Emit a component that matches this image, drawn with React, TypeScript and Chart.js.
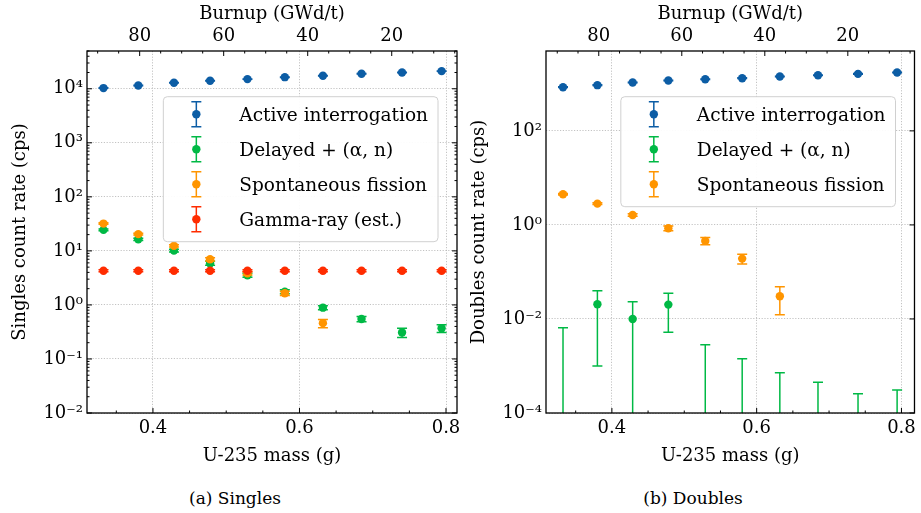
import React, { useEffect, useRef } from "react";
import { Chart, registerables } from "chart.js";

Chart.register(...registerables);

// ---------------- data ----------------
const U235_MASS = [0.3325, 0.38, 0.4287, 0.478, 0.529, 0.58, 0.632, 0.6847, 0.74, 0.794];

const LABEL_ACTIVE = "Active interrogation";
const LABEL_DELAYED = "Delayed + (α, n)";
const LABEL_SF = "Spontaneous fission";
const LABEL_GAMMA = "Gamma-ray (est.)";

const COLOR_ACTIVE = "#0C5DA5";
const COLOR_DELAYED = "#00B945";
const COLOR_SF = "#FF9500";
const COLOR_GAMMA = "#FF2C00";

const SINGLES_ACTIVE = [10300, 11500, 12900, 14100, 15100, 16400, 17400, 19000, 20000, 21200];
const SINGLES_ACTIVE_ERR = [100, 110, 120, 130, 140, 150, 160, 170, 180, 190];
const SINGLES_DELAYED = [24.5, 16.4, 10.1, 5.9, 3.55, 1.76, 0.89, 0.55, 0.31, 0.37];
const SINGLES_DELAYED_ERR = [0.9, 0.8, 0.6, 0.5, 0.3, 0.15, 0.08, 0.06, 0.06, 0.06];
const SINGLES_SF = [32, 20.4, 12.4, 7.0, 3.86, 1.64, 0.46, null, null, null];
const SINGLES_SF_ERR = [1.0, 0.8, 0.6, 0.5, 0.3, 0.15, 0.08, null, null, null];
const SINGLES_GAMMA = [4.3, 4.3, 4.3, 4.3, 4.3, 4.3, 4.3, 4.3, 4.3, 4.3];
const SINGLES_GAMMA_ERR = [0.2, 0.2, 0.2, 0.2, 0.2, 0.2, 0.2, 0.2, 0.2, 0.2];

const DOUBLES_ACTIVE = [849, 938, 1068, 1177, 1257, 1321, 1432, 1529, 1632, 1741];
const DOUBLES_ACTIVE_ERR = [15, 16, 17, 18, 19, 20, 21, 22, 23, 24];
const DOUBLES_DELAYED = [0, 0.0205, 0.01, 0.0202, 0, 0, 0, 0, 0, 0];
const DOUBLES_DELAYED_ERR = [0.0065, 0.0195, 0.0133, 0.015, 0.00284, 0.00143, 0.00072, 0.00045, 0.000258, 0.00031];
const DOUBLES_SF = [4.49, 2.84, 1.63, 0.85, 0.457, 0.192, 0.0303, null, null, null];
const DOUBLES_SF_ERR = [0.15, 0.12, 0.1, 0.1, 0.08, 0.045, 0.018, null, null, null];

const MASS_TICKS = [0.4, 0.6, 0.8];
const MASS_TICK_LABELS = ["0.4", "0.6", "0.8"];
const BURNUP_TICKS = [20, 40, 60, 80];
const BURNUP_TICK_LABELS = ["20", "40", "60", "80"];
const SINGLES_Y_TICKS = [1e-2, 1e-1, 1e0, 1e1, 1e2, 1e3, 1e4];
const SINGLES_Y_LABELS = ["10⁻²", "10⁻¹", "10⁰", "10¹", "10²", "10³", "10⁴"];
const DOUBLES_Y_TICKS = [1e-4, 1e-2, 1e0, 1e2];
const DOUBLES_Y_LABELS = ["10⁻⁴", "10⁻²", "10⁰", "10²"];

// burnup (GWd/t) = BURNUP_OFFSET - BURNUP_PER_GRAM * mass
const BURNUP_OFFSET = 146.6;
const BURNUP_PER_GRAM = 174.4;

// ---------------- styling ----------------
const FONT = '"DejaVu Serif", serif';
const GRID_COLOR = "#b4b4b4";

type Series = { label: string; color: string; values: (number | null)[]; errors: (number | null)[] };
type PanelSpec = {
  left: number;
  width: number;
  height: number;
  axisLeftW: number;
  padRight: number;
  topH: number;
  bottomH: number;
  yTitlePad: number;
  xMin: number;
  xMax: number;
  yMin: number;
  yMax: number;
  yTicks: number[];
  yLabels: string[];
  yTitle: string;
  leftTicks: boolean;
  yMinor: boolean;
  series: Series[];
};

const labelFor = (ticks: number[], labels: string[], v: number) => {
  const i = ticks.findIndex((t) => Math.abs(t - v) <= Math.abs(t) * 1e-6);
  return i >= 0 ? labels[i] : "";
};

const errorBarPlugin = {
  id: "errorBars",
  beforeDatasetDraw(chart: any, args: any) {
    const ds = chart.data.datasets[args.index];
    const vals = ds.values as (number | null)[];
    const errs = ds.errors as (number | null)[];
    if (!vals || !errs) return;
    const { ctx, chartArea: a } = chart;
    const xs = chart.scales.x;
    const ys = chart.scales.y;
    ctx.save();
    ctx.beginPath();
    ctx.rect(a.left, a.top, a.right - a.left, a.bottom - a.top);
    ctx.clip();
    ctx.strokeStyle = ds.borderColor;
    ctx.lineWidth = 1.5;
    ctx.beginPath();
    for (let j = 0; j < vals.length; j++) {
      const v = vals[j];
      const e = errs[j];
      if (v === null || e === null || e <= 0) continue;
      const hi = v + e;
      const lo = v - e;
      if (hi <= 0) continue;
      const px = xs.getPixelForValue(ds.data[j].x);
      const yHi = ys.getPixelForValue(hi);
      const yLo = lo > 0 ? ys.getPixelForValue(lo) : a.bottom + 10;
      ctx.moveTo(px, yHi);
      ctx.lineTo(px, yLo);
      ctx.moveTo(px - 5, yHi);
      ctx.lineTo(px + 5, yHi);
      if (lo > 0) {
        ctx.moveTo(px - 5, yLo);
        ctx.lineTo(px + 5, yLo);
      }
    }
    ctx.stroke();
    ctx.restore();
  },
};

function makeFramePlugin(spec: PanelSpec) {
  return {
    id: "frameTicks",
    afterDatasetsDraw(chart: any) {
      const { ctx, chartArea: a, scales } = chart;
      const xs = scales.x;
      const x2 = scales.x2;
      const ys = scales.y;
      const MAJ = 5;
      const MIN = 2.5;
      ctx.save();
      ctx.strokeStyle = "#000";
      ctx.lineWidth = 1;
      ctx.beginPath();
      for (const v of MASS_TICKS) {
        const p = xs.getPixelForValue(v);
        ctx.moveTo(p, a.bottom);
        ctx.lineTo(p, a.bottom - MAJ);
      }
      for (let k = Math.ceil(spec.xMin / 0.05); k * 0.05 <= spec.xMax; k++) {
        const v = k * 0.05;
        if (MASS_TICKS.some((t) => Math.abs(t - v) < 1e-6)) continue;
        const p = xs.getPixelForValue(v);
        ctx.moveTo(p, a.bottom);
        ctx.lineTo(p, a.bottom - MIN);
      }
      const bMin = x2.min;
      const bMax = x2.max;
      for (const v of BURNUP_TICKS) {
        const p = x2.getPixelForValue(v);
        ctx.moveTo(p, a.top);
        ctx.lineTo(p, a.top + MAJ);
      }
      for (let k = Math.ceil(bMin / 5); k * 5 <= bMax; k++) {
        const v = k * 5;
        if (BURNUP_TICKS.includes(v)) continue;
        const p = x2.getPixelForValue(v);
        ctx.moveTo(p, a.top);
        ctx.lineTo(p, a.top + MIN);
      }
      for (const v of spec.yTicks) {
        const p = ys.getPixelForValue(v);
        if (spec.leftTicks) {
          ctx.moveTo(a.left, p);
          ctx.lineTo(a.left + MAJ, p);
        }
        ctx.moveTo(a.right, p);
        ctx.lineTo(a.right - MAJ, p);
      }
      if (spec.yMinor) {
        const d0 = Math.floor(Math.log10(spec.yMin));
        const d1 = Math.ceil(Math.log10(spec.yMax));
        for (let d = d0; d <= d1; d++) {
          for (let m = 2; m <= 9; m++) {
            const v = m * Math.pow(10, d);
            if (v < spec.yMin || v > spec.yMax) continue;
            const p = ys.getPixelForValue(v);
            if (spec.leftTicks) {
              ctx.moveTo(a.left, p);
              ctx.lineTo(a.left + MIN, p);
            }
            ctx.moveTo(a.right, p);
            ctx.lineTo(a.right - MIN, p);
          }
        }
      }
      ctx.stroke();
      ctx.lineWidth = 1.3;
      ctx.strokeRect(a.left, a.top, a.right - a.left, a.bottom - a.top);
      ctx.restore();
    },
  };
}

function makeLegendPlugin(spec: PanelSpec) {
  return {
    id: "errLegend",
    afterDraw(chart: any) {
      const { ctx, chartArea: a } = chart;
      const n = spec.series.length;
      ctx.save();
      ctx.font = `18.5px ${FONT}`;
      const textW = Math.max(...spec.series.map((s) => ctx.measureText(s.label).width));
      const w = 76 + textW + 10;
      const h = (n - 1) * 35 + 40;
      const right = a.right - 19;
      const top = a.top + 45.7;
      const left = right - w;
      const r = 4;
      ctx.beginPath();
      ctx.moveTo(left + r, top);
      ctx.arcTo(left + w, top, left + w, top + h, r);
      ctx.arcTo(left + w, top + h, left, top + h, r);
      ctx.arcTo(left, top + h, left, top, r);
      ctx.arcTo(left, top, left + w, top, r);
      ctx.closePath();
      ctx.fillStyle = "rgba(255,255,255,0.95)";
      ctx.fill();
      ctx.strokeStyle = "#d0d0d0";
      ctx.lineWidth = 1;
      ctx.stroke();
      spec.series.forEach((s, i) => {
        const cy = top + 17.5 + i * 35;
        const mx = left + 33;
        ctx.strokeStyle = s.color;
        ctx.fillStyle = s.color;
        ctx.lineWidth = 1.5;
        ctx.beginPath();
        ctx.moveTo(mx, cy - 12.5);
        ctx.lineTo(mx, cy + 12.5);
        ctx.moveTo(mx - 5, cy - 12.5);
        ctx.lineTo(mx + 5, cy - 12.5);
        ctx.moveTo(mx - 5, cy + 12.5);
        ctx.lineTo(mx + 5, cy + 12.5);
        ctx.stroke();
        ctx.beginPath();
        ctx.arc(mx, cy, 4.2, 0, Math.PI * 2);
        ctx.fill();
        ctx.fillStyle = "#000";
        ctx.textBaseline = "alphabetic";
        ctx.textAlign = "left";
        ctx.fillText(s.label, left + 76, cy + 6.5);
      });
      ctx.restore();
    },
  };
}

function buildConfig(spec: PanelSpec) {
  const font = { family: FONT, size: 18 };
  const datasets = spec.series.map((s, i) => ({
    label: s.label,
    data: U235_MASS.map((m, j) => {
      const v = s.values[j];
      return { x: m, y: v !== null && v > 0 ? v : null };
    }),
    values: s.values,
    errors: s.errors,
    backgroundColor: s.color,
    borderColor: s.color,
    pointRadius: 4.2,
    pointHoverRadius: 4.2,
    pointBorderWidth: 0,
    pointStyle: "circle",
    showLine: false,
    order: spec.series.length - i,
    xAxisID: "x",
    yAxisID: "y",
  }));
  const burnMin = BURNUP_OFFSET - BURNUP_PER_GRAM * spec.xMax;
  const burnMax = BURNUP_OFFSET - BURNUP_PER_GRAM * spec.xMin;
  return {
    type: "scatter",
    data: { datasets },
    options: {
      animation: false,
      responsive: false,
      devicePixelRatio: 1,
      events: [],
      layout: { padding: { left: 0, right: spec.padRight, top: 0, bottom: 0 } },
      plugins: { legend: { display: false }, tooltip: { enabled: false } },
      scales: {
        x: {
          type: "linear",
          position: "bottom",
          min: spec.xMin,
          max: spec.xMax,
          afterBuildTicks: (s: any) => {
            s.ticks = MASS_TICKS.map((v) => ({ value: v }));
          },
          afterFit: (s: any) => {
            s.height = spec.bottomH;
          },
          ticks: {
            autoSkip: false,
            maxRotation: 0,
            padding: 5,
            color: "#000",
            font,
            callback: (v: number) => labelFor(MASS_TICKS, MASS_TICK_LABELS, v),
          },
          grid: { color: GRID_COLOR, lineWidth: 0.8, drawTicks: false },
          border: { display: false, dash: [1.2, 1.6] },
          title: { display: true, text: "U-235 mass (g)", color: "#000", font, padding: { top: 0, bottom: 3 } },
        },
        x2: {
          type: "linear",
          position: "top",
          reverse: true,
          min: burnMin,
          max: burnMax,
          afterBuildTicks: (s: any) => {
            s.ticks = BURNUP_TICKS.map((v) => ({ value: v }));
          },
          afterFit: (s: any) => {
            s.height = spec.topH;
          },
          ticks: {
            autoSkip: false,
            maxRotation: 0,
            padding: 3.5,
            color: "#000",
            font,
            callback: (v: number) => labelFor(BURNUP_TICKS, BURNUP_TICK_LABELS, v),
          },
          grid: { display: false, drawTicks: false },
          border: { display: false },
          title: { display: true, text: "Burnup (GWd/t)", color: "#000", font, padding: { top: 4, bottom: 0 } },
        },
        y: {
          type: "logarithmic",
          position: "left",
          min: spec.yMin,
          max: spec.yMax,
          afterBuildTicks: (s: any) => {
            s.ticks = spec.yTicks.map((v) => ({ value: v }));
          },
          afterFit: (s: any) => {
            s.width = spec.axisLeftW;
          },
          ticks: {
            autoSkip: false,
            padding: 4,
            color: "#000",
            font,
            callback: (v: number) => labelFor(spec.yTicks, spec.yLabels, v),
          },
          grid: { color: GRID_COLOR, lineWidth: 0.8, drawTicks: false },
          border: { display: false, dash: [1.2, 1.6] },
          title: { display: true, text: spec.yTitle, color: "#000", font, padding: { top: spec.yTitlePad, bottom: 0 } },
        },
      },
    },
    plugins: [errorBarPlugin, makeFramePlugin(spec), makeLegendPlugin(spec)],
  };
}

function Panel({ spec }: { spec: PanelSpec }) {
  const ref = useRef<HTMLCanvasElement>(null);
  useEffect(() => {
    const canvas = ref.current;
    if (!canvas) return;
    const chart = new Chart(canvas, buildConfig(spec) as any);
    return () => chart.destroy();
  }, [spec]);
  return (
    <canvas
      ref={ref}
      width={spec.width}
      height={spec.height}
      style={{ position: "absolute", left: spec.left, top: 0, width: spec.width, height: spec.height }}
    />
  );
}

const SINGLES_SPEC: PanelSpec = {
  left: 0,
  width: 480,
  height: 470,
  axisLeftW: 87,
  padRight: 23,
  topH: 51,
  bottomH: 57,
  yTitlePad: 9.2,
  xMin: 0.31,
  xMax: 0.815,
  yMin: 1e-2,
  yMax: 5e4,
  yTicks: SINGLES_Y_TICKS,
  yLabels: SINGLES_Y_LABELS,
  yTitle: "Singles count rate (cps)",
  leftTicks: true,
  yMinor: true,
  series: [
    { label: LABEL_ACTIVE, color: COLOR_ACTIVE, values: SINGLES_ACTIVE, errors: SINGLES_ACTIVE_ERR },
    { label: LABEL_DELAYED, color: COLOR_DELAYED, values: SINGLES_DELAYED, errors: SINGLES_DELAYED_ERR },
    { label: LABEL_SF, color: COLOR_SF, values: SINGLES_SF, errors: SINGLES_SF_ERR },
    { label: LABEL_GAMMA, color: COLOR_GAMMA, values: SINGLES_GAMMA, errors: SINGLES_GAMMA_ERR },
  ],
};

const DOUBLES_SPEC: PanelSpec = {
  left: 460,
  width: 461,
  height: 470,
  axisLeftW: 86,
  padRight: 5,
  topH: 51,
  bottomH: 57,
  yTitlePad: 8.2,
  xMin: 0.309,
  xMax: 0.818,
  yMin: 1e-4,
  yMax: 5e3,
  yTicks: DOUBLES_Y_TICKS,
  yLabels: DOUBLES_Y_LABELS,
  yTitle: "Doubles count rate (cps)",
  leftTicks: false,
  yMinor: false,
  series: [
    { label: LABEL_ACTIVE, color: COLOR_ACTIVE, values: DOUBLES_ACTIVE, errors: DOUBLES_ACTIVE_ERR },
    { label: LABEL_DELAYED, color: COLOR_DELAYED, values: DOUBLES_DELAYED, errors: DOUBLES_DELAYED_ERR },
    { label: LABEL_SF, color: COLOR_SF, values: DOUBLES_SF, errors: DOUBLES_SF_ERR },
  ],
};

const captionStyle = (cx: number): React.CSSProperties => ({
  position: "absolute",
  left: cx - 100,
  width: 200,
  top: 487,
  textAlign: "center",
  fontFamily: FONT,
  fontSize: 17,
  lineHeight: "22px",
  color: "#000",
});

export default function App() {
  return (
    <div style={{ position: "fixed", left: 0, top: 0, width: 921, height: 513, background: "#fff", overflow: "hidden" }}>
      <Panel spec={SINGLES_SPEC} />
      <Panel spec={DOUBLES_SPEC} />
      <div style={captionStyle(235)}>(a) Singles</div>
      <div style={captionStyle(693)}>(b) Doubles</div>
    </div>
  );
}
